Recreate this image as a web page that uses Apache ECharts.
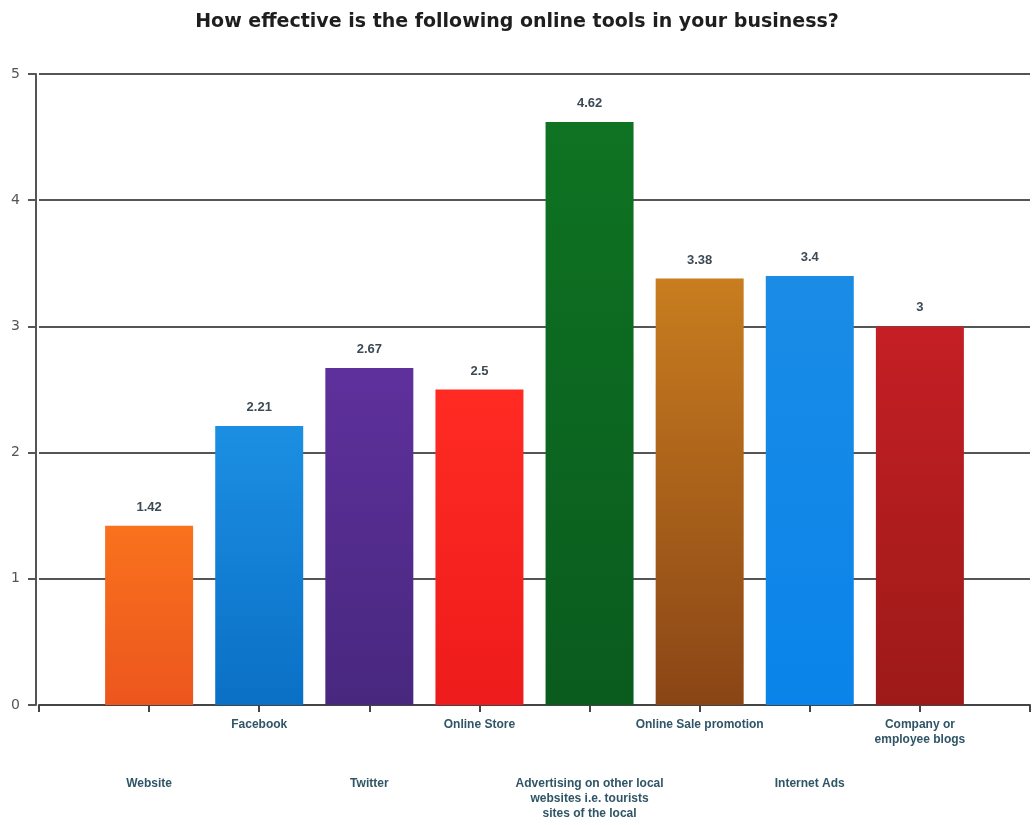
<!DOCTYPE html>
<html>
<head>
<meta charset="utf-8">
<style>
  html, body { margin: 0; padding: 0; background: #ffffff; }
  #chart { width: 1034px; height: 825px; }
</style>
<script src="https://cdn.jsdelivr.net/npm/echarts@6/dist/echarts.min.js"></script>
</head>
<body>
<div id="chart"></div>
<script>
// Survey results: average effectiveness score (0-5) per online tool
const categories = [
  'Website',
  'Facebook',
  'Twitter',
  'Online Store',
  'Advertising on other local\nwebsites i.e. tourists\nsites of the local',
  'Online Sale promotion',
  'Internet Ads',
  'Company or\nemployee blogs'
];
const scores = [1.42, 2.21, 2.67, 2.5, 4.62, 3.38, 3.4, 3];
const yTicks = [0, 1, 2, 3, 4, 5];

// Bar fills: [top colour, bottom colour]
const barColors = [
  ['#f9721d', '#ec561e'],
  ['#1c8fe2', '#0a70c6'],
  ['#5e309c', '#48287f'],
  ['#ff2b23', '#ee1b1c'],
  ['#0e7322', '#0a5b1e'],
  ['#c87d1f', '#8a4516'],
  ['#1a8ce6', '#0a84ea'],
  ['#c41f25', '#9d1a18']
];

// An empty slot on each side keeps the bars clear of the value axis
const axisCats = [''].concat(categories, ['']);
const barData = [null].concat(scores.map(function (v, i) {
  return {
    value: v,
    itemStyle: {
      color: new echarts.graphic.LinearGradient(0, 0, 0, 1, [
        { offset: 0, color: barColors[i][0] },
        { offset: 1, color: barColors[i][1] }
      ])
    }
  };
}), [null]);

const chart = echarts.init(document.getElementById('chart'), null, { renderer: 'canvas' });

chart.setOption({
  backgroundColor: '#ffffff',
  animation: false,
  title: {
    text: 'How effective is the following online tools in your business?',
    left: 'center',
    top: 8,
    textStyle: {
      fontFamily: 'DejaVu Sans, sans-serif',
      fontWeight: 'bold',
      fontSize: 19,
      color: '#1e1e1e'
    }
  },
  grid: { left: 39, right: 4, top: 74, bottom: 120, containLabel: false },
  xAxis: {
    type: 'category',
    data: axisCats,
    boundaryGap: false,
    axisLine: { lineStyle: { color: '#444', width: 2 } },
    axisTick: { show: true, length: 7, alignWithLabel: true, lineStyle: { color: '#444', width: 2 } },
    splitLine: { show: false },
    axisLabel: {
      interval: 0,
      margin: 12,
      formatter: function (val, idx) {
        if (!val) return '';
        const lines = val.split('\n').map(function (l) { return '{t|' + l + '}'; }).join('\n');
        // alternate labels sit on a lower row
        return (idx % 2 === 1) ? '{gap| }\n' + lines : lines;
      },
      rich: {
        t: {
          fontFamily: 'Liberation Sans Narrow, Liberation Sans, Arial, sans-serif',
          fontWeight: 'bold',
          fontSize: 12,
          lineHeight: 15,
          color: '#2f5566',
          align: 'center'
        },
        gap: { fontSize: 12, lineHeight: 59 }
      }
    }
  },
  yAxis: {
    type: 'value',
    min: yTicks[0],
    max: yTicks[yTicks.length - 1],
    interval: 1,
    offset: 3,
    axisLine: { show: true, lineStyle: { color: '#555', width: 2 } },
    axisTick: { show: true, length: 8, lineStyle: { color: '#555', width: 2 } },
    axisLabel: {
      margin: 16,
      fontFamily: 'DejaVu Sans, sans-serif',
      fontSize: 14,
      color: '#555'
    },
    splitLine: { show: true, lineStyle: { color: '#555', width: 2 } }
  },
  series: [{
    type: 'bar',
    data: barData,
    barWidth: 88,
    label: {
      show: true,
      position: 'top',
      distance: 12,
      fontFamily: 'Liberation Sans, Arial, sans-serif',
      fontWeight: 'bold',
      fontSize: 13,
      color: '#3b4a55',
      formatter: function (p) { return String(p.value); }
    }
  }]
});
</script>
</body>
</html>
